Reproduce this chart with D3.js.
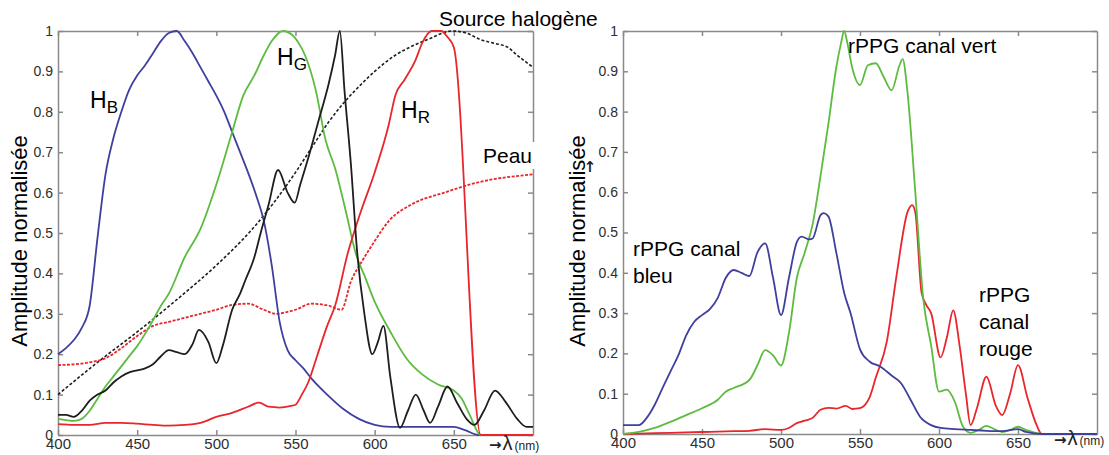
<!DOCTYPE html>
<html>
<head>
  <meta charset="utf-8">
  <title>Spectres normalisés</title>
  <style>
    body { margin: 0; background: #fff; }
    svg text { font-family: "Liberation Sans", Arial, sans-serif; }
    svg .arrow { font-family: "DejaVu Sans", sans-serif; }
    .axis path, .axis line { stroke: #8a8a8a; stroke-width: 1.5; }
    .axis text { fill: #2e2e2e; }
  </style>
  <script src="https://cdnjs.cloudflare.com/ajax/libs/d3/7.8.5/d3.min.js"></script>
</head>
<body>
<svg id="chart" width="1109" height="455"></svg>
<script>
// ticks
var xTicks = [400, 450, 500, 550, 600, 650];
var yTicks = [0, 0.1, 0.2, 0.3, 0.4, 0.5, 0.6, 0.7, 0.8, 0.9, 1];
var yTickLabels = ['0', '0.1', '0.2', '0.3', '0.4', '0.5', '0.6', '0.7', '0.8', '0.9', '1'];

// left panel: [lambda (nm), amplitude]
var hB = [[400,.20],[405,.215],[410,.235],[415,.265],[420,.32],[425,.49],[430,.645],[435,.735],[440,.80],[445,.855],[450,.89],[455,.915],[460,.945],[465,.975],[470,.995],[475,1.0],[480,.975],[485,.945],[490,.91],[495,.875],[500,.84],[505,.80],[510,.75],[515,.70],[520,.65],[525,.595],[530,.53],[535,.42],[540,.28],[545,.21],[550,.185],[555,.165],[560,.14],[570,.10],[580,.065],[590,.04],[600,.025],[610,.02],[620,.02],[630,.02],[640,.02],[650,.02],[657,.012],[666,0],[700,0]];
var hG = [[400,.04],[405,.037],[410,.035],[415,.04],[420,.06],[425,.09],[430,.12],[435,.145],[440,.17],[447,.205],[450,.22],[458,.27],[465,.32],[470,.35],[480,.44],[490,.51],[500,.62],[510,.75],[517,.84],[524,.89],[530,.94],[535,.975],[542,1.0],[548,.99],[552,.97],[556,.94],[563,.85],[569,.73],[575,.66],[582,.55],[588,.45],[594,.39],[600,.33],[610,.255],[620,.19],[630,.15],[640,.125],[650,.11],[655,.09],[660,.05],[667,0],[700,0]];
var hR = [[400,.027],[410,.025],[420,.025],[430,.03],[440,.03],[450,.028],[460,.025],[470,.023],[480,.025],[490,.03],[500,.045],[510,.055],[520,.07],[527,.08],[533,.07],[540,.068],[547,.072],[550,.075],[554,.10],[558,.13],[564,.20],[570,.27],[575,.32],[583,.45],[591,.55],[600,.65],[609,.77],[613,.84],[619,.88],[626,.93],[630,.97],[636,1.0],[642,1.0],[646,.985],[650,.96],[667,0],[700,0]];
var noir = [[400,.05],[405,.05],[410,.045],[415,.06],[420,.085],[425,.10],[430,.11],[435,.13],[440,.145],[445,.155],[450,.16],[455,.165],[460,.175],[465,.195],[470,.21],[475,.205],[480,.20],[485,.225],[489,.26],[495,.23],[500,.178],[504,.22],[510,.31],[515,.35],[518,.38],[524,.44],[528,.50],[533,.57],[539,.656],[545,.60],[549.5,.575],[553,.62],[558,.685],[564,.77],[571,.87],[575,.94],[578,1.0],[581,.85],[585,.67],[589,.45],[593.5,.30],[598.5,.20],[602,.23],[605.5,.27],[610,.14],[616,.018],[621,.06],[626,.10],[631,.06],[635,.03],[640,.07],[646,.12],[652,.08],[658,.04],[663,.025],[669,.06],[676,.11],[683,.08],[690,.04],[696,.02],[700,.02]];
var halogene = [[400,.10],[425,.18],[450,.255],[475,.335],[500,.42],[525,.52],[550,.65],[560,.71],[571,.775],[580,.82],[592,.87],[600,.90],[613,.94],[625,.965],[634,.98],[649,1.0],[658,.995],[666,.98],[675,.97],[684,.96],[690,.94],[695,.925],[700,.91]];
var peau = [[400,.173],[410,.175],[420,.18],[430,.19],[440,.215],[450,.245],[460,.27],[470,.28],[480,.29],[490,.30],[500,.31],[510,.322],[520,.325],[530,.31],[538,.30],[545,.305],[550,.31],[560,.325],[571,.32],[579,.31],[585,.38],[592,.43],[600,.48],[609,.53],[623,.57],[644,.60],[665,.625],[700,.645]];

// right panel
var rppgBleu = [[400,.022],[410,.022],[415,.04],[420,.072],[425,.114],[430,.155],[435,.195],[440,.245],[445,.278],[450,.295],[455,.31],[460,.338],[465,.387],[470,.407],[475,.40],[480,.392],[485,.45],[490,.473],[495,.387],[500,.295],[505,.387],[510,.476],[513,.49],[518,.483],[520,.485],[525,.543],[527,.548],[530,.54],[535,.45],[540,.35],[544,.30],[550,.21],[556,.18],[563,.167],[570,.145],[576,.126],[582,.085],[588,.043],[595,.022],[601,.015],[610,.012],[620,.01],[630,.008],[640,.007],[650,.012],[655,.005],[665,0],[700,0]];
var rppgVert = [[400,0],[410,.005],[420,.015],[430,.03],[440,.047],[450,.064],[460,.085],[465,.105],[470,.114],[480,.134],[485,.17],[490,.208],[495,.195],[500,.17],[505,.25],[510,.387],[515,.45],[520,.52],[525,.64],[530,.77],[535,.91],[538,.97],[540,1.0],[542,.97],[545,.91],[550,.866],[555,.915],[560,.92],[565,.886],[570,.853],[575,.915],[577,.93],[580,.85],[585,.60],[590,.337],[595,.22],[600,.105],[605,.11],[610,.08],[615,.02],[620,.003],[625,.01],[630,.02],[635,.012],[640,.005],[645,.01],[650,.018],[655,.01],[660,.004],[665,0],[700,0]];
var rppgRouge = [[400,0],[420,.002],[440,.004],[450,.005],[460,.006],[470,.007],[480,.008],[490,.012],[500,.01],[505,.015],[510,.027],[515,.033],[520,.04],[525,.06],[530,.065],[535,.063],[541,.07],[545,.062],[550,.064],[556,.09],[560,.14],[567,.23],[573,.39],[580,.55],[583,.568],[585,.55],[589,.35],[592,.32],[595,.30],[601,.19],[605,.24],[609,.307],[613,.22],[617,.10],[620,.022],[624,.064],[630,.142],[636,.07],[640,.047],[645,.10],[650,.171],[656,.09],[662,.02],[665,0],[700,0]];

var BLUE = '#3f3f9e', GREEN = '#5dbb3f', RED = '#e8262b', BLACK = '#1e1e1e';

var svg = d3.select('#chart');

function panel(box, series) {
  var x = d3.scaleLinear().domain([400, 700]).range([box.x0, box.x1]);
  var y = d3.scaleLinear().domain([0, 1]).range([box.y1, box.y0]);
  var g = svg.append('g');

  g.append('g').attr('class', 'axis')
    .attr('transform', 'translate(0,' + box.y1 + ')')
    .call(d3.axisBottom(x).tickValues(xTicks).tickSize(-5).tickSizeOuter(0).tickPadding(3))
    .selectAll('text').style('font-size', '15px');
  g.append('g').attr('class', 'axis')
    .attr('transform', 'translate(' + box.x0 + ',0)')
    .call(d3.axisLeft(y).tickValues(yTicks).tickSize(-5).tickSizeOuter(0).tickPadding(5)
      .tickFormat(function(d, i) { return yTickLabels[i]; }))
    .selectAll('text').style('font-size', '14px');
  g.append('g').attr('class', 'axis')
    .attr('transform', 'translate(0,' + box.y0 + ')')
    .call(d3.axisTop(x).tickValues(xTicks).tickSize(-5).tickSizeOuter(0).tickFormat(''));
  g.append('g').attr('class', 'axis')
    .attr('transform', 'translate(' + box.x1 + ',0)')
    .call(d3.axisRight(y).tickValues(yTicks).tickSize(-5).tickSizeOuter(0).tickFormat(''));

  var line = d3.line()
    .x(function(d) { return x(d[0]); })
    .y(function(d) { return y(d[1]); })
    .curve(d3.curveMonotoneX);

  series.forEach(function(s) {
    g.append('path')
      .attr('d', line(s.data))
      .attr('fill', 'none')
      .attr('stroke', s.color)
      .attr('stroke-width', s.width || 1.8)
      .attr('stroke-dasharray', s.dash || null)
      .attr('stroke-linejoin', 'round');
  });
  return g;
}

var left = panel({x0: 58, x1: 533, y0: 31, y1: 435}, [
  {data: halogene, color: BLACK, dash: '3,2', width: 1.6},
  {data: peau, color: RED, dash: '3,1.5', width: 1.8},
  {data: hB, color: BLUE},
  {data: hG, color: GREEN},
  {data: hR, color: RED},
  {data: noir, color: BLACK}
]);

var right = panel({x0: 623, x1: 1097, y0: 31, y1: 434}, [
  {data: rppgRouge, color: RED},
  {data: rppgVert, color: GREEN},
  {data: rppgBleu, color: BLUE}
]);

// labels
function ylabel(cx, cy) {
  svg.append('text')
    .attr('transform', 'translate(' + cx + ',' + cy + ') rotate(-90)')
    .attr('text-anchor', 'middle')
    .attr('dy', '0.35em')
    .style('font-size', '22px')
    .text('Amplitude normalisée');
}
ylabel(19, 241);
ylabel(577, 241);
svg.append('text').attr('class', 'arrow').attr('x', 590).attr('y', 172).attr('text-anchor', 'middle')
  .style('font-size', '15px').style('font-weight', 'bold').style('fill', '#222').text('↑');

function xlabel(x0, yb) {
  var t = svg.append('text').attr('x', x0).attr('y', yb).style('fill', '#222');
  t.append('tspan').attr('class', 'arrow').style('font-size', '15px').style('font-weight', 'bold').text('→');
  t.append('tspan').style('font-size', '20px').attr('dx', 1).text('λ');
  t.append('tspan').style('font-size', '12px').attr('dx', 2).text('(nm)');
}
xlabel(489, 450);
xlabel(1054, 445);

function label(x, yb, txt, size) {
  svg.append('text').attr('x', x).attr('y', yb).style('font-size', (size || 21) + 'px').text(txt);
}
function hlabel(x, yb, sub) {
  var t = svg.append('text').attr('x', x).attr('y', yb).style('font-size', '23px');
  t.append('tspan').text('H');
  t.append('tspan').attr('dy', 5).style('font-size', '17px').text(sub);
}

label(439, 26, 'Source halogène');
svg.append('rect').attr('x', 478).attr('y', 142).attr('width', 60).attr('height', 27).attr('fill', '#fff');
label(483, 163, 'Peau');
hlabel(90, 108, 'B');
hlabel(277, 65, 'G');
hlabel(401, 118, 'R');

label(848, 53, 'rPPG canal vert');
label(633, 256, 'rPPG canal');
label(633, 283, 'bleu');
label(979, 302, 'rPPG');
label(979, 329, 'canal');
label(979, 356, 'rouge');
</script>
</body>
</html>
